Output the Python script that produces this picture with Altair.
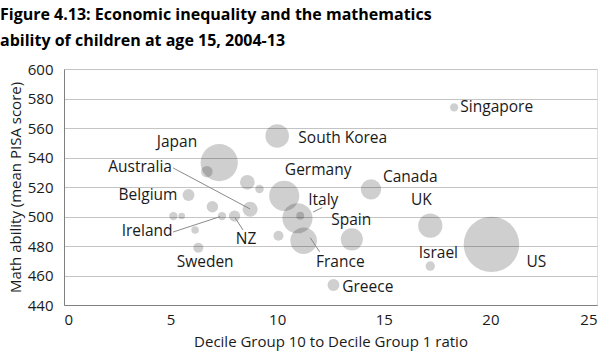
import altair as alt
import pandas as pd

# Bubble data
bx = [18.3, 10.0, 7.28, 6.70, 10.33, 10.95, 11.08, 11.24, 10.06, 13.5, 12.64, 14.4, 17.18, 20.05, 17.18,
      8.60, 9.17, 8.73, 8.00, 7.41, 6.96, 5.84, 5.13, 5.52, 6.15, 6.30]
by = [574.0, 554.6, 536.5, 530.4, 514.0, 498.8, 500.5, 483.6, 487.0, 484.5, 453.6, 518.4, 493.8, 481.1, 466.4,
      523.2, 518.6, 504.9, 500.3, 500.3, 506.6, 514.6, 500.3, 500.3, 490.8, 478.8]
# relative bubble area
barea = [22, 177, 441, 42, 289, 289, 20, 225, 32, 156, 45, 132, 188, 980, 28,
         69, 23, 72, 40, 22, 42, 45, 22, 14, 18, 32]

# Country labels (data coordinates)
lab_text = ["Singapore", "South Korea", "Japan", "Australia", "Germany", "Canada", "Belgium", "Italy",
            "UK", "Spain", "Ireland", "NZ", "France", "Israel", "US", "Sweden", "Greece"]
lab_x = [18.59, 10.99, 5.3, 3.57, 11.92, 16.24, 3.94, 12.16, 16.76, 13.47, 3.9, 8.54, 12.96, 17.56, 22.16, 6.62, 13.05]
lab_y = [574.0, 553.2, 550.5, 533.6, 531.5, 526.8, 514.6, 511.2, 511.2, 497.6, 490.2, 484.7, 469.2, 475.3, 469.2, 469.2, 452.2]
lab_align = ["left", "left", "center", "center", "center", "center", "center", "center", "center", "center",
             "center", "center", "center", "center", "center", "center", "left"]

# Leader lines
ld_x = [5.12, 5.12, 8.40, 12.11, 11.55]
ld_y = [532.9, 489.5, 490.8, 506.0, 485.6]
ld_x2 = [8.73, 7.32, 8.03, 11.69, 11.99]
ld_y2 = [505.1, 499.9, 499.0, 503.1, 476.1]

x_ticks = [0, 5, 10, 15, 20, 25]
y_ticks = [440, 460, 480, 500, 520, 540, 560, 580, 600]

bub = pd.DataFrame({"x": bx, "y": by, "a": barea})
labs = pd.DataFrame({"x": lab_x, "y": lab_y, "t": lab_text, "al": lab_align})
lead = pd.DataFrame({"x": ld_x, "y": ld_y, "x2": ld_x2, "y2": ld_y2})

FONT = "Open Sans"
xs = alt.Scale(domain=[0, 25], nice=False, zero=False)
ys = alt.Scale(domain=[440, 600], nice=False, zero=False)

xax = alt.Axis(values=x_ticks, tickCount=6, grid=False, ticks=False, domainColor="#7f7f7f", labelFontSize=15,
               labelFont=FONT, labelColor="#1a1a1a", labelPadding=7, labelOverlap=False,
               title="Decile Group 10 to Decile Group 1 ratio",
               titleFont=FONT, titleFontSize=15, titleFontWeight="normal", titleColor="#1a1a1a", titlePadding=7)
yax = alt.Axis(values=y_ticks, tickCount=9, grid=True, gridColor="#c4c4c4", ticks=False, domainColor="#7f7f7f",
               labelFontSize=15, labelFont=FONT, labelColor="#1a1a1a", labelPadding=11, labelOverlap=False,
               title="Math ability (mean PISA score)", titleFont=FONT, titleFontSize=15,
               titleFontWeight="normal", titleColor="#1a1a1a", titlePadding=4)

X = alt.X("x:Q", scale=xs, axis=xax)
Y = alt.Y("y:Q", scale=ys, axis=yax)

bubbles = alt.Chart(bub).mark_circle(color="black", opacity=0.19, stroke=None).encode(
    x=X, y=Y,
    size=alt.Size("a:Q", scale=alt.Scale(domain=[0, 1000], range=[0, 3142]), legend=None),
)

leaders = alt.Chart(lead).mark_rule(color="#8a8a8a", strokeWidth=1).encode(
    x=X, y=Y, x2="x2:Q", y2="y2:Q"
)

left_labels = alt.Chart(labs).transform_filter(alt.datum.al == "left").mark_text(
    font=FONT, fontSize=15.5, color="#1a1a1a", align="left", baseline="middle"
).encode(x=X, y=Y, text="t:N")

center_labels = alt.Chart(labs).transform_filter(alt.datum.al == "center").mark_text(
    font=FONT, fontSize=15.5, color="#1a1a1a", align="center", baseline="middle"
).encode(x=X, y=Y, text="t:N")

chart = alt.layer(bubbles, leaders, left_labels, center_labels).properties(
    width=533, height=236,
    autosize=alt.AutoSizeParams(type="none"),
    padding={"left": 64, "top": 69, "right": 7, "bottom": 47},
    title=alt.TitleParams(
        text=["Figure 4.13: Economic inequality and the mathematics", "ability of children at age 15, 2004-13"],
        anchor="start", frame="group", dx=-64, font=FONT, fontSize=16, fontWeight="bold",
        color="#000000", lineHeight=26, offset=13,
    ),
).configure_view(stroke=None).configure(background="white")

chart.save("out.html", embed_options={"renderer": "svg", "actions": False})
